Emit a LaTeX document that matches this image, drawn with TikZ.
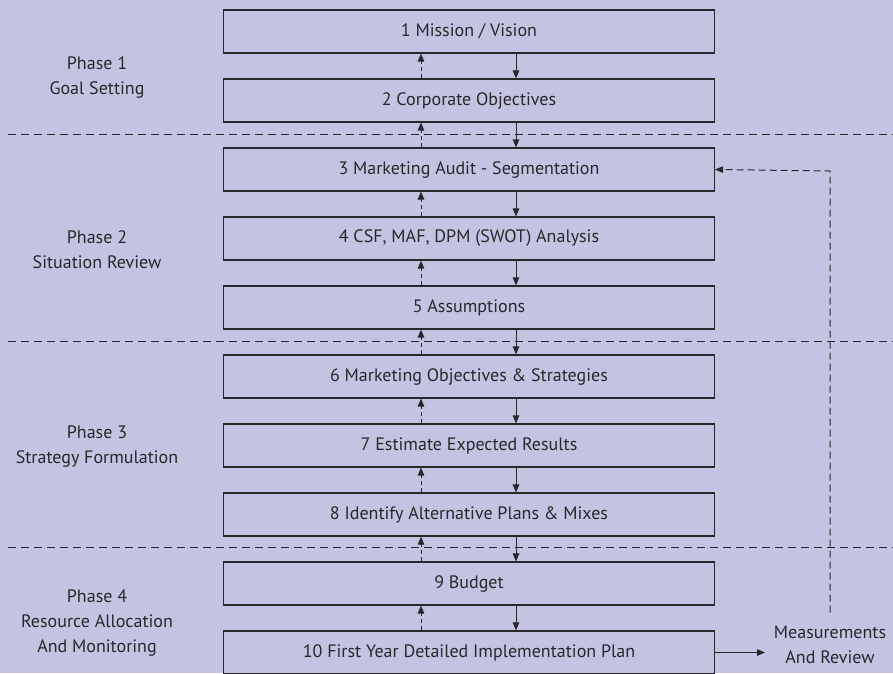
\documentclass[tikz,border=0pt]{standalone}
\usepackage{fontspec}
\setmainfont{PT Sans}
\usetikzlibrary{positioning, arrows.meta}
\definecolor{planbg}{RGB}{196,196,226}
\definecolor{planline}{RGB}{40,40,44}

\begin{document}
\begin{tikzpicture}[
    x=1pt, y=-1pt,
    node distance=24.9pt,
    font=\fontsize{18}{20}\selectfont,
    stepbox/.style={rectangle, draw=planline, line width=1.1pt, minimum width=491pt, minimum height=43pt, text=planline},
    phase/.style={align=center, text=planline, font=\fontsize{18}{25}\selectfont},
    flowdown/.style={-{Triangle[length=8pt,width=6.5pt]}, line width=1pt, planline},
    flowup/.style={-{Triangle[length=8pt,width=6.5pt]}, line width=1pt, planline, dash pattern=on 4pt off 3pt},
    divider/.style={planline, line width=1pt, dash pattern=on 8pt off 5pt}
]
    \fill[planbg] (0,0) rectangle (893,673);
    \useasboundingbox (0,0) rectangle (893,673);

    \node[stepbox] (b1) at (469,31.5) {1 Mission / Vision};
    \node[stepbox] (b2) [below=of b1] {2 Corporate Objectives};
    \node[stepbox] (b3) [below=of b2] {3 Marketing Audit - Segmentation};
    \node[stepbox] (b4) [below=of b3] {4 CSF, MAF, DPM (SWOT) Analysis};
    \node[stepbox] (b5) [below=of b4] {5 Assumptions};
    \node[stepbox] (b6) [below=of b5] {6 Marketing Objectives \& Strategies};
    \node[stepbox] (b7) [below=of b6] {7 Estimate Expected Results};
    \node[stepbox] (b8) [below=of b7] {8 Identify Alternative Plans \& Mixes};
    \node[stepbox] (b9) [below=of b8] {9 Budget};
    \node[stepbox] (b10) [below=of b9] {10 First Year Detailed Implementation Plan};

    % phase labels
    \node[phase] (p1) at (97,77) {Phase 1\\Goal Setting};
    \node[phase] (p2) at (97,250) {Phase 2\\Situation Review};
    \node[phase] (p3) at (97,447) {Phase 3\\Strategy Formulation};
    \node[phase] (p4) at (97,623) {Phase 4\\Resource Allocation\\And Monitoring};
    \node[phase] (meas) at (830,645) {Measurements\\And Review};

    % phase dividers
    \draw[divider] (8,134) -- (893,134);
    \draw[divider] (8,341) -- (893,341);
    \draw[divider] (8,547) -- (893,547);

    \foreach \i [count=\j from 2] in {1,...,9} {
        \draw[flowdown] ([xshift=47pt]b\i.south) -- ([xshift=47pt]b\j.north);
        \draw[flowup] ([xshift=-48pt]b\j.north) -- ([xshift=-48pt]b\i.south);
    }

    % review loop
    \coordinate (fbtop) at (830,171);
    \draw[flowdown] (b10.east) -- ++(50,0) coordinate (measin);
    \draw[flowup, dash pattern=on 7pt off 4pt] ([yshift=10pt]meas.north -| fbtop) -- (fbtop) -- (b3.east);
\end{tikzpicture}
\end{document}
